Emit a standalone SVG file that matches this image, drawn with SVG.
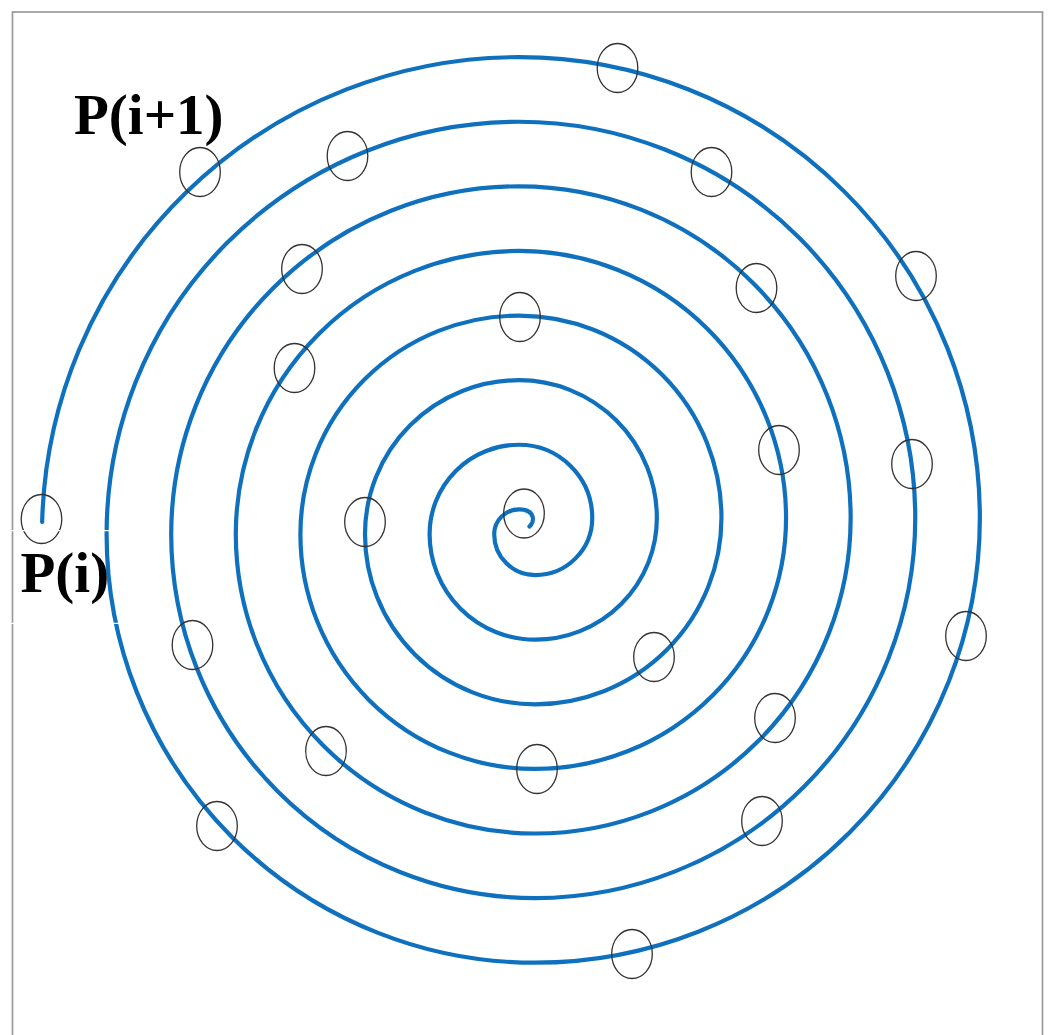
<svg xmlns="http://www.w3.org/2000/svg" width="1049" height="1035" viewBox="0 0 1049 1035">
<style>
.frame{fill:none;stroke:#9a9a9a;stroke-width:1.7}
.spiral{fill:none;stroke:#0f71bd;stroke-width:4.2;stroke-linecap:round;stroke-linejoin:round}
.pt{fill:none;stroke:#333;stroke-width:1.3}
.lbl{font-family:"Liberation Serif","Times New Roman",serif;font-weight:bold;font-size:57px;fill:#000}
.gap{stroke:#fff;stroke-width:1.2}
</style>
<rect x="0" y="0" width="1049" height="1035" fill="#fff"/>
<rect class="frame" x="12.5" y="12" width="1030" height="1040"/>
<g id="connectors">
<path id="spiral" class="spiral" d="M 529.5 526.5 C 534.5 522.5 536 509.35 519 509.35
A 24.8 24.8 0 0 0 494.2 534.15
A 40.95 40.95 0 0 0 535.15 575.1
A 57.1 57.1 0 0 0 592.25 518
A 73.25 73.25 0 0 0 519 444.75
A 89.4 89.4 0 0 0 429.6 534.15
A 105.55 105.55 0 0 0 535.15 639.7
A 121.7 121.7 0 0 0 656.85 518
A 137.85 137.85 0 0 0 519 380.15
A 154 154 0 0 0 365 534.15
A 170.15 170.15 0 0 0 535.15 704.3
A 186.3 186.3 0 0 0 721.45 518
A 202.45 202.45 0 0 0 519 315.55
A 218.6 218.6 0 0 0 300.4 534.15
A 234.75 234.75 0 0 0 535.15 768.9
A 250.9 250.9 0 0 0 786.05 518
A 267.05 267.05 0 0 0 519 250.95
A 283.2 283.2 0 0 0 235.8 534.15
A 299.35 299.35 0 0 0 535.15 833.5
A 315.5 315.5 0 0 0 850.65 518
A 331.65 331.65 0 0 0 519 186.35
A 347.8 347.8 0 0 0 171.2 534.15
A 363.95 363.95 0 0 0 535.15 898.1
A 380.1 380.1 0 0 0 915.25 518
A 396.25 396.25 0 0 0 519 121.75
A 412.4 412.4 0 0 0 106.6 534.15
A 428.55 428.55 0 0 0 535.15 962.7
A 444.7 444.7 0 0 0 979.85 518
A 460.85 460.85 0 0 0 519 57.15
A 477 477 0 0 0 42.15 522"/>
</g>
<g id="points">
<ellipse id="p1" class="pt" cx="617.5" cy="68" rx="20.3" ry="24.5"/>
<ellipse id="p2" class="pt" cx="200" cy="172" rx="20.3" ry="24.5"/>
<ellipse id="p3" class="pt" cx="347.5" cy="156" rx="20.3" ry="24.5"/>
<ellipse id="p4" class="pt" cx="711.5" cy="172" rx="20.3" ry="24.5"/>
<ellipse id="p5" class="pt" cx="302" cy="269" rx="20.3" ry="24.5"/>
<ellipse id="p6" class="pt" cx="756.5" cy="288" rx="20.3" ry="24.5"/>
<ellipse id="p7" class="pt" cx="916" cy="276" rx="20.3" ry="24.5"/>
<ellipse id="p8" class="pt" cx="520" cy="317" rx="20.3" ry="24.5"/>
<ellipse id="p9" class="pt" cx="294.5" cy="368" rx="20.3" ry="24.5"/>
<ellipse id="p10" class="pt" cx="779" cy="450" rx="20.3" ry="24.5"/>
<ellipse id="p11" class="pt" cx="912" cy="464" rx="20.3" ry="24.5"/>
<ellipse id="p12" class="pt" cx="41.5" cy="519" rx="20.3" ry="24.5"/>
<ellipse id="p13" class="pt" cx="365" cy="522" rx="20.3" ry="24.5"/>
<ellipse id="p14" class="pt" cx="524" cy="513.5" rx="20.3" ry="24.5"/>
<ellipse id="p15" class="pt" cx="966" cy="636" rx="20.3" ry="24.5"/>
<ellipse id="p16" class="pt" cx="192.5" cy="645" rx="20.3" ry="24.5"/>
<ellipse id="p17" class="pt" cx="654" cy="657" rx="20.3" ry="24.5"/>
<ellipse id="p18" class="pt" cx="775" cy="718" rx="20.3" ry="24.5"/>
<ellipse id="p19" class="pt" cx="326" cy="751" rx="20.3" ry="24.5"/>
<ellipse id="p20" class="pt" cx="537" cy="769" rx="20.3" ry="24.5"/>
<ellipse id="p21" class="pt" cx="217" cy="826" rx="20.3" ry="24.5"/>
<ellipse id="p22" class="pt" cx="762" cy="821" rx="20.3" ry="24.5"/>
<ellipse id="p23" class="pt" cx="632" cy="954" rx="20.3" ry="24.5"/>
</g>
<g id="label-next"><text class="lbl" x="74" y="133.5">P(i+1)</text></g>
<g id="label-cur"><text class="lbl" x="20.5" y="591.5">P(i)</text></g>
<line class="gap" x1="0" y1="530.7" x2="122" y2="530.7"/>
<line class="gap" x1="0" y1="623.3" x2="122" y2="623.3"/>
</svg>
